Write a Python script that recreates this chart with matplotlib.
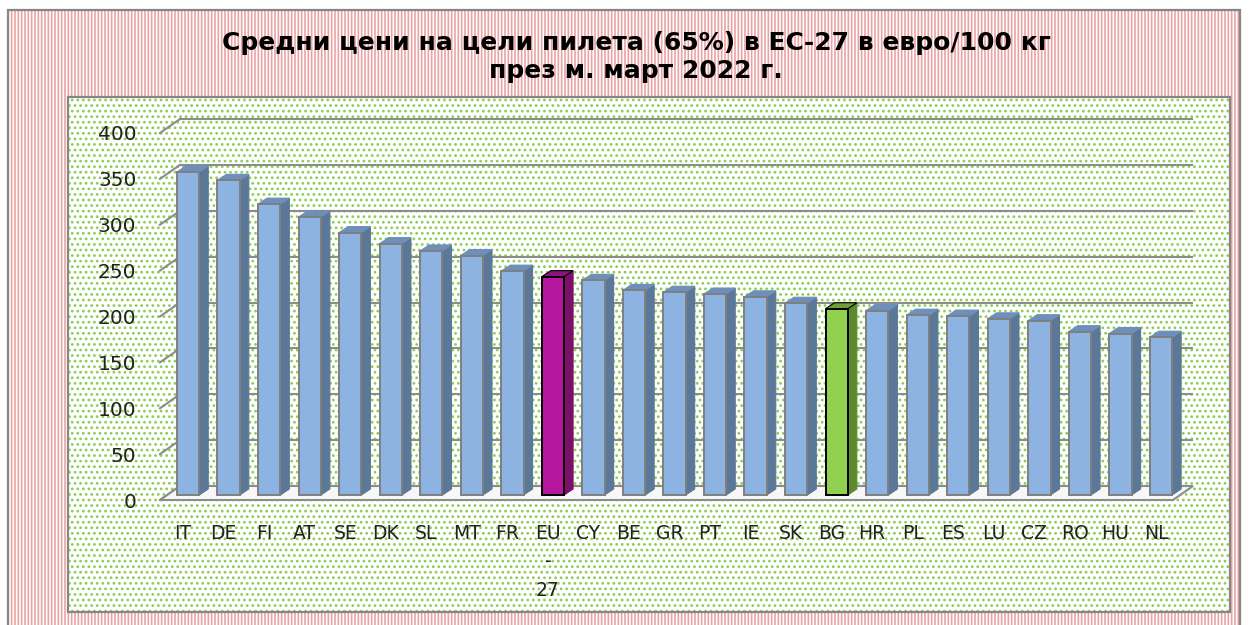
import matplotlib
matplotlib.use("Agg")
import matplotlib.pyplot as plt
from matplotlib.patches import Rectangle, Polygon

plt.rcParams['font.family'] = ['DejaVu Sans']
plt.rcParams['hatch.linewidth'] = 1.2

# data (euro / 100 kg)
countries = ['IT', 'DE', 'FI', 'AT', 'SE', 'DK', 'SL', 'MT', 'FR', 'EU-27',
             'CY', 'BE', 'GR', 'PT', 'IE', 'SK', 'BG', 'HR', 'PL', 'ES',
             'LU', 'CZ', 'RO', 'HU', 'NL']
prices = [352, 343, 317, 303, 286, 274, 266, 261, 244, 238,
          234, 223, 221, 219, 216, 209, 203, 201, 196, 195,
          192, 190, 178, 176, 172]
y_ticks = [0, 50, 100, 150, 200, 250, 300, 350, 400]

title = 'Средни цени на цели пилета (65%) в ЕС-27 в евро/100 кг\nпрез м. март 2022 г.'

W, H = 1249, 625


def fx(px):
    return px / W


def fy(py):
    return 1 - py / H


fig = plt.figure(figsize=(W / 100, H / 100), dpi=100)

# outer pink dotted background + border
fig.add_artist(Rectangle((fx(8), fy(640)), fx(1240) - fx(8), fy(10) - fy(640),
                         transform=fig.transFigure, facecolor='white',
                         edgecolor='#eaa3a3', hatch='|||||', lw=0, zorder=-20))
fig.add_artist(Rectangle((fx(8), fy(640)), fx(1240) - fx(8), fy(10) - fy(640),
                         transform=fig.transFigure, fill=False,
                         edgecolor='#868686', lw=1.6, zorder=-19))
# inner green dotted plot area + border
fig.add_artist(Rectangle((fx(68), fy(612)), fx(1230) - fx(68), fy(97) - fy(612),
                         transform=fig.transFigure, facecolor='white',
                         edgecolor='#8ccd55', hatch='...', lw=0, zorder=-18))
fig.add_artist(Rectangle((fx(68), fy(612)), fx(1230) - fx(68), fy(97) - fy(612),
                         transform=fig.transFigure, fill=False,
                         edgecolor='#868686', lw=1.6, zorder=-17))

fig.text(fx(636), fy(57), title, ha='center', va='center', fontsize=18,
         fontweight='bold', linespacing=1.2)

ax = fig.add_axes([fx(160), fy(500), (1173 - 160) / W, (500 - 133) / H])
ax.set_facecolor('none')
for s in ax.spines.values():
    s.set_visible(False)
xmin, xmax = -0.57, len(countries) - 0.58
ax.set_xlim(xmin, xmax)
ax.set_ylim(0, 400)

# pixel -> data scale for 3D offsets
p0 = ax.transData.transform((0, 0))
p1 = ax.transData.transform((1, 1))
sx = p1[0] - p0[0]
sy = p1[1] - p0[1]
wdx, wdy = 20 / sx, 14 / sy   # back wall depth
bdx, bdy = 9 / sx, 6 / sy     # bar depth
ox, oy = 5 / sx, 5 / sy       # bars sit a little behind the front edge

grid_c = '#8c8c8c'
for t in y_ticks:
    ax.plot([xmin + wdx, xmax + wdx], [t + wdy, t + wdy], color=grid_c, lw=1.5,
            zorder=1, clip_on=False, solid_capstyle='butt')
    ax.plot([xmin, xmin + wdx], [t, t + wdy], color=grid_c, lw=1.5,
            zorder=1, clip_on=False)

# floor
ax.add_patch(Polygon([(xmin, 0), (xmax, 0), (xmax + wdx, wdy), (xmin + wdx, wdy)],
                     closed=True, facecolor='#f7f7f7', edgecolor=grid_c, lw=1.5,
                     zorder=2, clip_on=False))

width = 0.55
for i, (c, v) in enumerate(zip(countries, prices)):
    if c == 'EU-27':
        front, side, top, edge = '#b5179e', '#7c1069', '#8e127c', 'black'
    elif c == 'BG':
        front, side, top, edge = '#92d050', '#5e8a2e', '#6f9e3a', 'black'
    else:
        front, side, top, edge = '#8db3e2', '#5b7898', '#6d8fba', '#7f7f7f'
    xc = i + ox
    l, r = xc - width / 2, xc + width / 2
    b, h = oy, oy + v
    ax.add_patch(Polygon([(r, b), (r + bdx, b + bdy), (r + bdx, h + bdy), (r, h)],
                         closed=True, facecolor=side, edgecolor=side, lw=0.8,
                         zorder=3, clip_on=False))
    ax.add_patch(Polygon([(l, h), (r, h), (r + bdx, h + bdy), (l + bdx, h + bdy)],
                         closed=True, facecolor=top,
                         edgecolor=edge if edge == 'black' else top,
                         lw=0.8, zorder=3, clip_on=False))
    ax.bar(xc, v, bottom=b, width=width, color=front, edgecolor=edge, lw=1.4,
           zorder=4, clip_on=False)

ax.set_yticks(y_ticks)
ax.set_yticklabels([str(t) for t in y_ticks], fontsize=14.5, color='#222222')
ax.set_xticks(range(len(countries)))
ax.set_xticklabels([c.replace('-', '\n-\n') for c in countries], fontsize=13.5,
                   color='#222222', linespacing=1.65)
ax.tick_params(axis='y', length=0, pad=17)
ax.tick_params(axis='x', length=0, pad=17)

fig.savefig('out.png', dpi=100)
